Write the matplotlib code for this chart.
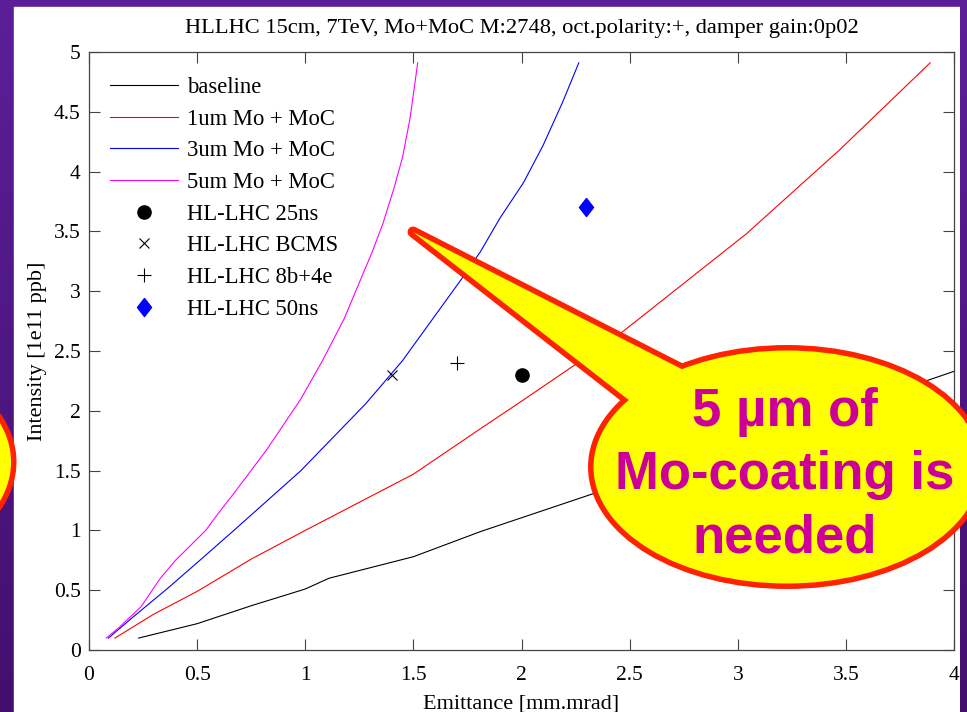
import numpy as np
import matplotlib
matplotlib.use('Agg')
import matplotlib.pyplot as plt
import matplotlib.ticker as mticker
from matplotlib.patches import Ellipse, Polygon, Rectangle

plt.rcParams['font.family'] = ['Liberation Serif', 'DejaVu Serif']

# instability threshold curves: emittance [mm.mrad] -> intensity [1e11 ppb]
base_x = [0.23, 0.5, 0.75, 1.0, 1.11, 1.5, 1.81, 2.32, 3.0, 3.5, 4.0]
base_y = [0.10, 0.22, 0.37, 0.51, 0.60, 0.78, 0.99, 1.30, 1.70, 2.02, 2.33]

mo1_x = [0.12, 0.3, 0.5, 0.75, 1.0, 1.5, 1.81, 2.0, 2.26, 2.46, 3.04, 3.47, 3.89]
mo1_y = [0.10, 0.30, 0.49, 0.76, 1.00, 1.47, 1.85, 2.08, 2.40, 2.65, 3.48, 4.18, 4.91]

mo3_x = [0.09, 0.2, 0.36, 0.5, 0.67, 0.98, 1.28, 1.37, 1.45, 1.73, 1.81, 1.90,
         2.01, 2.10, 2.19, 2.265]
mo3_y = [0.10, 0.27, 0.51, 0.73, 1.00, 1.50, 2.06, 2.25, 2.42, 3.12, 3.33, 3.61,
         3.91, 4.22, 4.58, 4.91]

mo5_x = [0.08, 0.14, 0.24, 0.33, 0.40, 0.54, 0.58, 0.67, 0.82, 0.98, 1.08, 1.18,
         1.31, 1.36, 1.41, 1.45, 1.485, 1.52]
mo5_y = [0.10, 0.19, 0.36, 0.60, 0.75, 1.00, 1.10, 1.31, 1.67, 2.10, 2.42, 2.77,
         3.33, 3.57, 3.86, 4.12, 4.45, 4.91]

curve_names = ['baseline', '1um Mo + MoC', '3um Mo + MoC', '5um Mo + MoC']
curve_colors = ['black', 'red', 'blue', 'magenta']

# beam options
beam_names = ['HL-LHC 25ns', 'HL-LHC BCMS', 'HL-LHC 8b+4e', 'HL-LHC 50ns']
beam_x = [2.0, 1.4, 1.7, 2.3]
beam_y = [2.3, 2.3, 2.4, 3.7]

title_text = 'HLLHC 15cm, 7TeV, Mo+MoC M:2748, oct.polarity:+, damper gain:0p02'
note_text = '5 µm of\nMo-coating is\nneeded'

W, H = 967, 712
fig = plt.figure(figsize=(W / 100, H / 100), dpi=100)

# purple slide background with white panel
grad = np.linspace(0, 1, 256)[:, None, None]
top_c = np.array([0.36, 0.12, 0.60])
bot_c = np.array([0.26, 0.06, 0.43])
bg_img = top_c + (bot_c - top_c) * grad

bg = fig.add_axes([0, 0, 1, 1], zorder=-1)
bg.imshow(bg_img, extent=[0, W, H, 0], aspect='auto')
bg.add_patch(Rectangle((14, 7), 946, 705, color='white'))
bg.set_xlim(0, W)
bg.set_ylim(H, 0)
bg.axis('off')

ax = fig.add_axes([89 / W, 1 - 650 / H, 865 / W, 598 / H])
curves = [(base_x, base_y), (mo1_x, mo1_y), (mo3_x, mo3_y), (mo5_x, mo5_y)]
for (cx, cy), name, col in zip(curves, curve_names, curve_colors):
    ax.plot(cx, cy, color=col, lw=0.8, label=name)

diamond = [(0, 1), (0.78, 0), (0, -1), (-0.78, 0), (0, 1)]
styles = [dict(marker='o', ms=9.5, color='black'),
          dict(marker='x', ms=7, color='black', mew=0.8),
          dict(marker='+', ms=9.5, color='black', mew=0.8),
          dict(marker=diamond, ms=13, color='blue')]
for bx, by, name, st in zip(beam_x, beam_y, beam_names, styles):
    ax.plot([bx], [by], ls='none', label=name, **st)

ax.set_xlim(0, 4)
ax.set_ylim(0, 5)
ax.set_xticks(np.arange(0, 4.01, 0.5))
ax.set_yticks(np.arange(0, 5.01, 0.5))
ax.xaxis.set_major_formatter(mticker.FormatStrFormatter('%g'))
ax.yaxis.set_major_formatter(mticker.FormatStrFormatter('%g'))
ax.tick_params(direction='in', top=True, right=True, length=8, width=0.8,
               color='#444444', labelsize=15.5)
ax.tick_params(axis='x', pad=11.5)
ax.tick_params(axis='y', pad=6)
for sp in ax.spines.values():
    sp.set_color('#444444')
    sp.set_linewidth(0.9)

ax.set_title(title_text, fontsize=16.2, pad=14)
ax.set_xlabel('Emittance [mm.mrad]', fontsize=16, labelpad=6.5)
ax.set_ylabel('Intensity [1e11 ppb]', fontsize=16, labelpad=5)

ax.legend(loc='upper left', bbox_to_anchor=(0.024, 0.958), frameon=False,
          fontsize=16.3, borderaxespad=0, borderpad=0, handlelength=3.0,
          handletextpad=0.4, labelspacing=0.47)

# overlay in pixel coordinates: right border strip and speech bubbles
ov = fig.add_axes([0, 0, 1, 1], zorder=10)
ov.imshow(bg_img, extent=[960, W, H, 0], aspect='auto')
ov.patch.set_alpha(0)

red = '#FF2200'
yellow = '#FFFF00'
edge_lw = 7.9


def bubble(cx, cy, w, h, tip=None, base=None):
    outline = [Ellipse((cx, cy), w, h)]
    fill = [Ellipse((cx, cy), w, h)]
    if tip is not None:
        outline.append(Polygon([tip] + base, closed=True))
        fill.append(Polygon([tip] + base, closed=True))
    for s in outline:
        s.set(facecolor=red, edgecolor=red, lw=edge_lw, joinstyle='round')
        ov.add_patch(s)
    for s in fill:
        s.set(facecolor=yellow, edgecolor='none')
        ov.add_patch(s)


bubble(-185, 462, 392, 236)
bubble(787, 467, 387, 233, tip=(413, 232), base=[(758, 408), (693, 450)])
ov.text(785, 475, note_text, ha='center', va='center', fontsize=38,
        fontweight='bold', family='Liberation Sans', color='#CC0099',
        linespacing=1.34)

ov.set_xlim(0, W)
ov.set_ylim(H, 0)
ov.axis('off')

fig.savefig('out.png', dpi=100)
